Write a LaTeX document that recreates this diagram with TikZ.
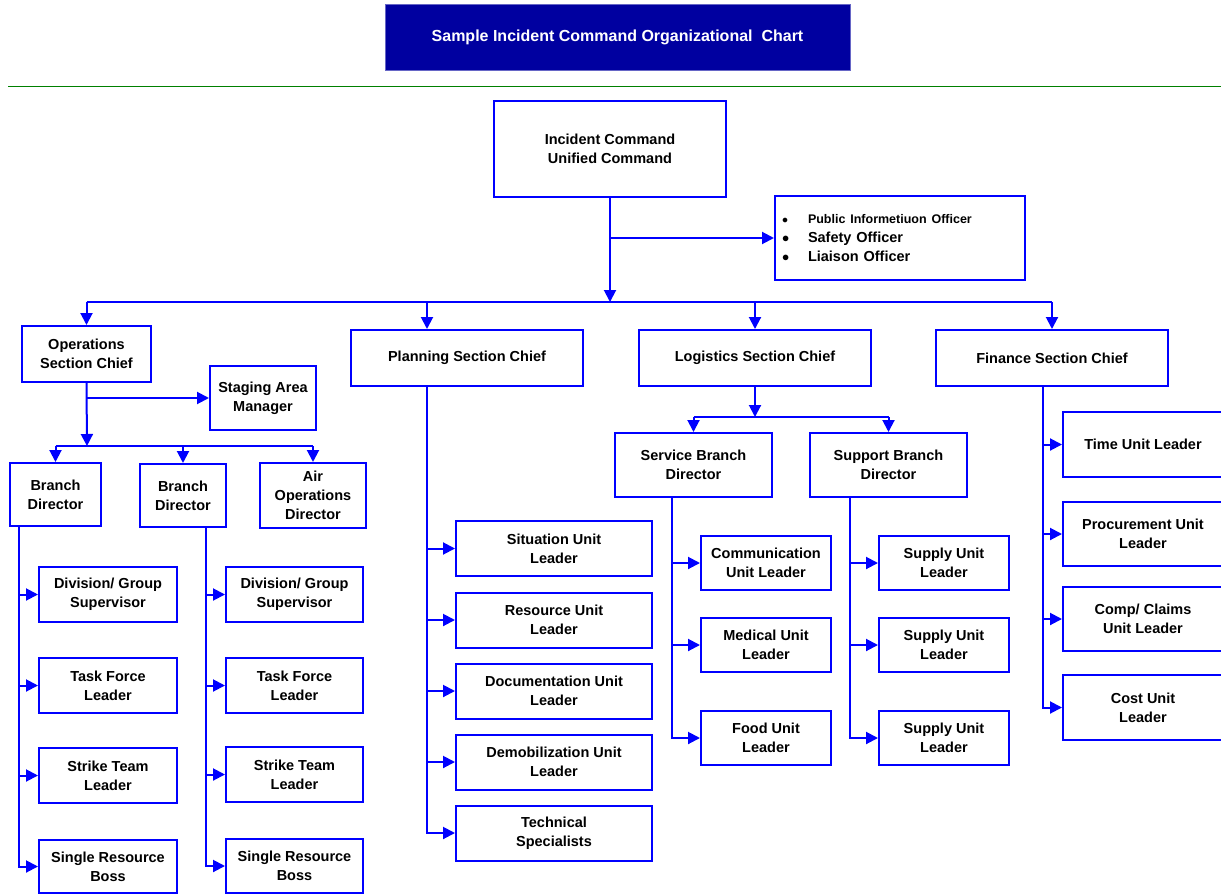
\documentclass[tikz,border=0pt]{standalone}
\usepackage{fontspec}
\setmainfont{Liberation Sans}
\usetikzlibrary{arrows.meta}
\definecolor{chartblue}{RGB}{0,0,255}
\definecolor{titleblue}{RGB}{0,0,160}
\definecolor{rulegreen}{RGB}{0,128,0}
\newcommand{\infobullet}{\makebox[26pt][l]{$\bullet$}}

\begin{document}
\begin{tikzpicture}[x=1pt,y=-1pt,font=\fontsize{14.5}{19}\selectfont\bfseries,
  box/.style={draw=chartblue,line width=2pt,align=center,inner sep=2pt},
  wh/.style 2 args={minimum width=#1,minimum height=#2},
  wire/.style={draw=chartblue,line width=2pt},
  arr/.style={wire,-{Triangle[length=12pt,width=12pt]}}]
\useasboundingbox (0,0) rectangle (1221,894);

% title
\node[fill=titleblue,draw=titleblue!60!white,text=white,wh={465}{66},font=\fontsize{16}{19}\selectfont\bfseries] (title) at (617.5,37) {Sample Incident Command Organizational~ Chart};
\draw[rulegreen,line width=1pt] (8,86) -- (1221,86);

% command
\node[box,wh={232}{96}] (ic) at (610,149) {Incident Command\\Unified Command};
\node[box,wh={250}{84},text width=236,align=left] (info) at (900,238)
  {{\fontsize{12.5}{19}\selectfont\infobullet Public Informetiuon Officer}\\
   \infobullet Safety Officer\\
   \infobullet Liaison Officer};

% sections
\node[box,wh={129}{56}] (ops) at (86.5,354) {Operations\\Section Chief};
\node[box,wh={232}{56}] (plan) at (467,358) {Planning Section Chief};
\node[box,wh={232}{56}] (log) at (755,358) {Logistics Section Chief};
\node[box,wh={232}{56}] (fin) at (1052,358) {Finance Section Chief};

\coordinate (top) at (610,302);
\coordinate (pl) at (427,386);
\draw[arr] (ic.south) -- (top);
\draw[arr] (ic.south |- info.west) -- (info.west);
\draw[wire] (ops.north |- top) -- (fin.north |- top);
\foreach \k in {ops,log,fin}
{
  \draw[arr] (\k.north |- top) -- (\k.north);
}
\draw[arr] (pl |- top) -- (pl |- plan.north);

% operations
\node[box,wh={106}{64}] (stage) at (263,398) {Staging Area\\Manager};
\node[box,wh={91}{63}] (br1) at (55.5,494.5) {Branch\\Director};
\node[box,wh={86}{63}] (br2) at (183,495.5) {Branch\\Director};
\node[box,wh={106}{65}] (air) at (313,495.5) {Air\\Operations\\Director};

\coordinate (opsbar) at (87,446);
\draw[arr] (ops.south) -- (opsbar);
\draw[arr] (ops.south |- stage.west) -- (stage.west);
\draw[wire] (br1.north |- opsbar) -- (air.north |- opsbar);
\foreach \k in {br1,br2,air}
{
  \draw[arr] (\k.north |- opsbar) -- (\k.north);
}

\node[box,wh={138}{55}] (dg1) at (108,594.5) {Division/ Group\\Supervisor};
\node[box,wh={138}{55}] (tf1) at (108,685.5) {Task Force\\Leader};
\node[box,wh={138}{55}] (st1) at (108,775.5) {Strike Team\\Leader};
\node[box,wh={138}{53}] (sr1) at (108,866.5) {Single Resource\\Boss};

\node[box,wh={137}{55}] (dg2) at (294.5,594.5) {Division/ Group\\Supervisor};
\node[box,wh={137}{55}] (tf2) at (294.5,685.5) {Task Force\\Leader};
\node[box,wh={137}{55}] (st2) at (294.5,774.5) {Strike Team\\Leader};
\node[box,wh={137}{54}] (sr2) at (294.5,866) {Single Resource\\Boss};

\coordinate (b1) at (19,526);
\coordinate (b2) at (206,527);
\draw[arr] (b1) |- (sr1.west);
\draw[arr] (b2) |- (sr2.west);
\foreach \k in {dg,tf,st}
{
  \draw[arr] (b1 |- \k1.west) -- (\k1.west);
  \draw[arr] (b2 |- \k2.west) -- (\k2.west);
}

% planning
\node[box,wh={196}{55}] (sit) at (554,548.5) {Situation Unit\\Leader};
\node[box,wh={196}{55}] (res) at (554,620) {Resource Unit\\Leader};
\node[box,wh={196}{55}] (doc) at (554,691) {Documentation Unit\\Leader};
\node[box,wh={196}{55}] (dem) at (554,762) {Demobilization Unit\\Leader};
\node[box,wh={196}{55}] (tech) at (554,833) {Technical\\Specialists};

\draw[arr] (pl) |- (tech.west);
\foreach \k in {sit,res,doc,dem}
{
  \draw[arr] (pl |- \k.west) -- (\k.west);
}

% logistics
\node[box,wh={157}{64}] (svc) at (693.5,465) {Service Branch\\Director};
\node[box,wh={157}{64}] (sup) at (888.5,465) {Support Branch\\Director};

\coordinate (logbar) at (755,417);
\draw[arr] (log.south) -- (logbar);
\draw[wire] (svc.north |- logbar) -- (sup.north |- logbar);
\foreach \k in {svc,sup}
{
  \draw[arr] (\k.north |- logbar) -- (\k.north);
}

\node[box,wh={130}{54}] (comm) at (766,563) {Communication\\Unit Leader};
\node[box,wh={130}{54}] (med) at (766,645) {Medical Unit\\Leader};
\node[box,wh={130}{54}] (food) at (766,738) {Food Unit\\Leader};

\node[box,wh={130}{54}] (sup1) at (944,563) {Supply Unit\\Leader};
\node[box,wh={130}{54}] (sup2) at (944,645) {Supply Unit\\Leader};
\node[box,wh={130}{54}] (sup3) at (944,738) {Supply Unit\\Leader};

\coordinate (sv) at (672,497);
\coordinate (sp) at (850,497);
\draw[arr] (sv) |- (food.west);
\draw[arr] (sp) |- (sup3.west);
\foreach \k in {comm,med}
{
  \draw[arr] (sv |- \k.west) -- (\k.west);
}
\foreach \k in {sup1,sup2}
{
  \draw[arr] (sp |- \k.west) -- (\k.west);
}

% finance
\node[box,wh={160}{65}] (time) at (1143,444.5) {Time Unit Leader};
\node[box,wh={160}{64}] (proc) at (1143,534) {Procurement Unit\\Leader};
\node[box,wh={160}{64}] (comp) at (1143,619) {Comp/ Claims\\Unit Leader};
\node[box,wh={160}{65}] (cost) at (1143,707.5) {Cost Unit\\Leader};

\coordinate (fl) at (1043,386);
\draw[arr] (fl) |- (cost.west);
\foreach \k in {time,proc,comp}
{
  \draw[arr] (fl |- \k.west) -- (\k.west);
}

\end{tikzpicture}
\end{document}
